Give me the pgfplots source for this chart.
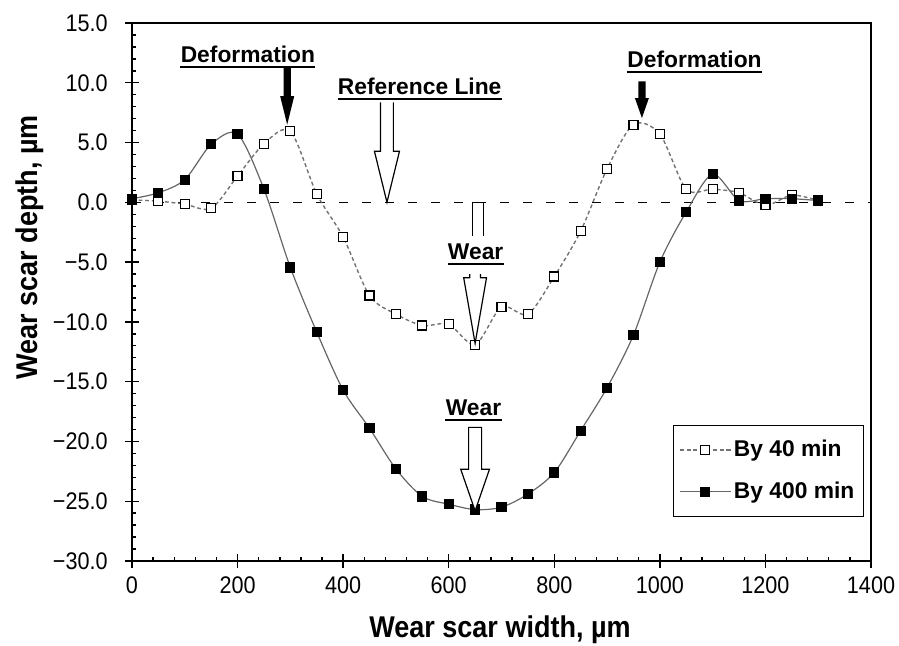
\documentclass[border=0pt]{standalone}
\usepackage{pgfplots}
\pgfplotsset{compat=1.18}
\usepackage{fontspec}
\setmainfont{Liberation Sans}
\newfontfamily\narrowfont[FakeStretch=0.9]{Liberation Sans}
\newcommand\tickfont{\narrowfont\fontsize{12}{14}\selectfont}
\newcommand\labfont{\narrowfont\bfseries\fontsize{15}{18}\selectfont}
\newcommand\annfont{\bfseries\fontsize{11.4}{13.7}\selectfont}
\begin{document}
\begin{tikzpicture}
\begin{axis}[
  width=369.5pt, height=269pt, scale only axis,
  xmin=0, xmax=1400, ymin=-30, ymax=15,
  xtick={0,200,...,1400},
  xticklabels={0,200,400,600,800,1000,1200,1400},
  ytick={-30,-25,...,15},
  yticklabels={−30.0,−25.0,−20.0,−15.0,−10.0,−5.0,0.0,5.0,10.0,15.0},
  scaled ticks=false,
  minor x tick num=4, minor y tick num=4,
  tick pos=left,
  tick align=center,
  major tick length=7pt,
  minor tick length=2.2pt,
  minor x tick style={yshift=1.1pt},
  minor y tick style={xshift=1.1pt},
  axis line style={line width=0.8pt},
  tick style={line width=0.7pt, black},
  xticklabel style={font=\tickfont, anchor=north, inner sep=0pt, yshift=-4pt},
  yticklabel style={font=\tickfont, anchor=east, inner sep=0pt, xshift=-8.5pt},
  every axis x label/.style={at={(axis description cs:0.498,-0.128)}, anchor=center, font=\labfont},
  every axis y label/.style={at={(axis description cs:-0.138,0.583)}, anchor=center, rotate=90, font=\labfont},
  xlabel={Wear scar width, µm},
  ylabel={Wear scar depth, µm},
  legend image code/.code={\draw[mark repeat=2,mark phase=2,#1] plot coordinates {(0pt,0pt) (12.5pt,0pt) (25pt,0pt)};},
  legend cell align=left,
  legend style={at={(0.9905,0.0818)}, anchor=south east, draw=black, line width=0.6pt, fill=white,
    font=\annfont, inner xsep=3pt, inner ysep=6pt, row sep=8pt, nodes={inner sep=1.5pt}},
]
\addplot[black, line width=0.65pt, dash pattern=on 4.5pt off 7pt, forget plot] coordinates {(0,0) (1400,0)};
\addplot[black!55, line width=0.7pt, dash pattern=on 1.9pt off 1.4pt, smooth, mark=square*, mark size=2.25pt,
  mark options={solid, fill=white, draw=black, line width=0.6pt}] coordinates {
(0,0.2)(50,0.1)(100,-0.15)(150,-0.5)(200,2.2)(250,4.9)(300,5.95)(350,0.7)(400,-2.9)(450,-7.8)
(500,-9.35)(550,-10.3)(600,-10.2)(650,-11.9)(700,-8.75)(750,-9.35)(800,-6.2)(850,-2.4)(900,2.8)
(950,6.5)(1000,5.7)(1050,1.1)(1100,1.1)(1150,0.8)(1200,-0.25)(1250,0.6)(1300,0.15)};
\addlegendentry{By 40 min}
\addplot[black!60, line width=0.6pt, smooth, mark=square*, mark size=2.25pt,
  mark options={solid, fill=black, draw=black}] coordinates {
(0,0.3)(50,0.8)(100,1.9)(150,4.85)(200,5.7)(250,1.1)(300,-5.45)(350,-10.85)(400,-15.7)(450,-18.9)
(500,-22.3)(550,-24.6)(600,-25.25)(650,-25.7)(700,-25.5)(750,-24.4)(800,-22.6)(850,-19.1)(900,-15.5)
(950,-11.1)(1000,-5.0)(1050,-0.8)(1100,2.35)(1150,0.15)(1200,0.3)(1250,0.3)(1300,0.15)};
\addlegendentry{By 400 min}
\coordinate (d1) at (axis cs:294,6.5);
\coordinate (d2) at (axis cs:966,7.05);
\coordinate (rl) at (axis cs:483,0);
\coordinate (w1t) at (axis cs:655,0);
\coordinate (w1) at (axis cs:650,-11.8);
\coordinate (w2) at (axis cs:650,-25.8);
\coordinate (t1) at (axis cs:219.6,11.66);
\coordinate (t2) at (axis cs:1065.7,11.24);
\coordinate (t3) at (axis cs:545,8.98);
\coordinate (t4) at (axis cs:651,-4.78);
\coordinate (t5) at (axis cs:647,-17.87);
\end{axis}
% texts with underline
\foreach \c/\txt in {t1/Deformation,t2/Deformation,t3/Reference Line,t4/Wear,t5/Wear}{
  \node[anchor=base, inner sep=0pt, font=\annfont] (n\c) at (\c) {\txt};
  \draw[line width=1pt] ([yshift=-2.1pt]n\c.base west) -- ([yshift=-2.1pt]n\c.base east);
}
% black deformation arrows
\begin{scope}[shift={(d1)}]
\fill (0,0) -- (-3.5pt,14.2pt) -- (-1.8pt,14.2pt) -- (-1.8pt,28.7pt) -- (1.8pt,28.7pt) -- (1.8pt,14.2pt) -- (3.5pt,14.2pt) -- cycle;
\end{scope}
\begin{scope}[shift={(d2)}]
\fill (0,0) -- (-3.5pt,10pt) -- (-1.8pt,10pt) -- (-1.8pt,18.3pt) -- (1.8pt,18.3pt) -- (1.8pt,10pt) -- (3.5pt,10pt) -- cycle;
\end{scope}
% reference line arrow
\begin{scope}[shift={(rl)}, line width=0.6pt]
\draw[fill=white] (-3.2pt,50pt) -- (-3.2pt,25.5pt) -- (-6.25pt,25.5pt) -- (0,0) -- (6.25pt,25.5pt) -- (3.2pt,25.5pt) -- (3.2pt,50pt);
\end{scope}
% upper wear
\begin{scope}[shift={(w1t)}, line width=0.6pt]
\draw[fill=white] (-2.7pt,-16.7pt) -- (-2.7pt,0pt) -- (2.7pt,0pt) -- (2.7pt,-16.7pt);
\end{scope}
\begin{scope}[shift={(w1)}, line width=0.6pt]
\draw (-2.7pt,34.7pt) -- (-2.7pt,32.8pt) -- (-5.7pt,32.8pt) -- (0,0) -- (5.7pt,32.8pt) -- (2.7pt,32.8pt) -- (2.7pt,34.7pt);
\end{scope}
% lower wear
\begin{scope}[shift={(w2)}, line width=0.6pt]
\draw[fill=white] (0,0) -- (-7.2pt,20.8pt) -- (-3.25pt,20.8pt) -- (-3.25pt,41.7pt) -- (3.25pt,41.7pt) -- (3.25pt,20.8pt) -- (7.2pt,20.8pt) -- cycle;
\end{scope}
\pgfresetboundingbox
\path[use as bounding box] (-66pt,-42.5pt) rectangle (383.5pt,280.5pt);
\end{tikzpicture}
\end{document}
